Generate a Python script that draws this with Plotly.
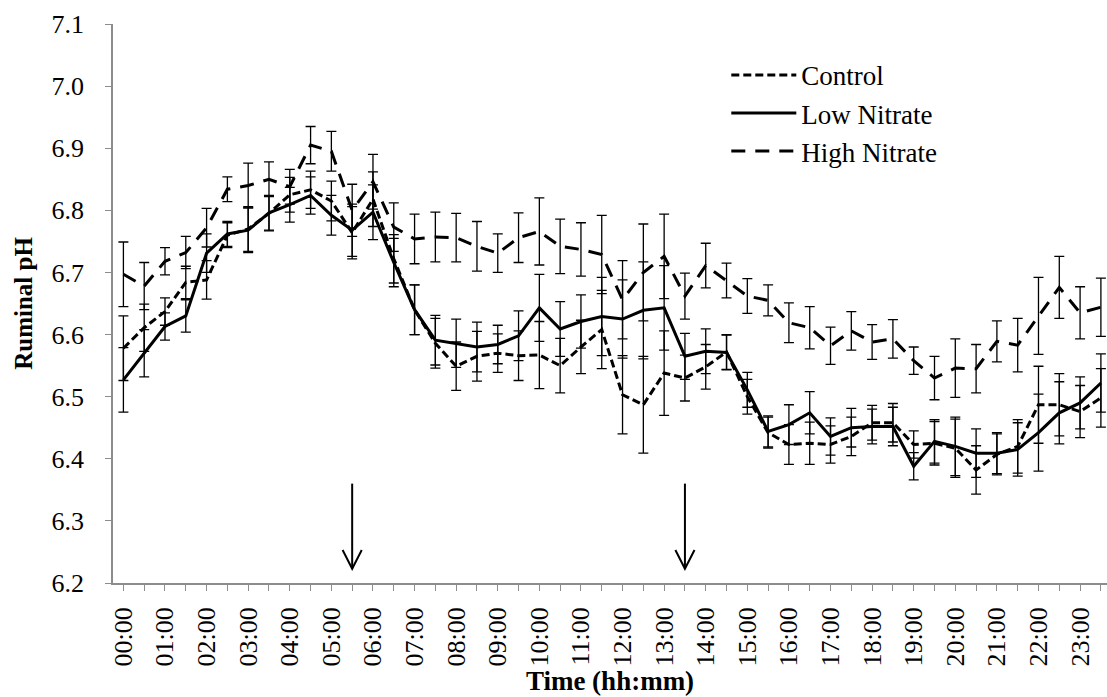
import plotly.graph_objects as go

# Half-hourly sampling times (hours after 00:00) and their clock labels
hours = [h / 2 for h in range(48)]
time_labels = [f"{int(h):02d}:{'30' if h % 1 else '00'}" for h in hours]
tick_text = [lab if lab.endswith(":00") else "" for lab in time_labels]

# Mean ruminal pH per treatment
control = [6.578, 6.611, 6.637, 6.684, 6.688, 6.760, 6.770, 6.795, 6.825, 6.833,
           6.815, 6.764, 6.818, 6.722, 6.640, 6.586, 6.549, 6.565, 6.570, 6.566,
           6.567, 6.550, 6.580, 6.608, 6.503, 6.487, 6.538, 6.530, 6.548, 6.572,
           6.500, 6.442, 6.423, 6.425, 6.423, 6.436, 6.458, 6.458, 6.423, 6.425,
           6.417, 6.382, 6.407, 6.420, 6.487, 6.487, 6.476, 6.498]

low_nitrate = [6.527, 6.570, 6.613, 6.630, 6.731, 6.762, 6.768, 6.796, 6.809, 6.824,
               6.792, 6.768, 6.797, 6.716, 6.640, 6.591, 6.586, 6.580, 6.584, 6.598,
               6.643, 6.609, 6.621, 6.629, 6.625, 6.639, 6.643, 6.565, 6.573, 6.571,
               6.511, 6.444, 6.455, 6.474, 6.436, 6.450, 6.452, 6.452, 6.388, 6.428,
               6.420, 6.409, 6.409, 6.415, 6.442, 6.474, 6.490, 6.522]

high_nitrate = [6.697, 6.678, 6.718, 6.732, 6.772, 6.834, 6.840, 6.850, 6.838, 6.905,
                6.895, 6.800, 6.846, 6.773, 6.754, 6.757, 6.756, 6.742, 6.731, 6.756,
                6.766, 6.742, 6.737, 6.729, 6.656, 6.700, 6.726, 6.662, 6.711, 6.687,
                6.662, 6.655, 6.619, 6.611, 6.582, 6.606, 6.588, 6.593, 6.558, 6.530,
                6.546, 6.545, 6.589, 6.583, 6.630, 6.676, 6.635, 6.644]

# Pooled standard error of the mean at each time point
sem = [0.052, 0.038, 0.022, 0.026, 0.031, 0.020, 0.036, 0.028, 0.028, 0.030,
       0.032, 0.042, 0.044, 0.039, 0.040, 0.040, 0.039, 0.040, 0.031, 0.040,
       0.054, 0.044, 0.043, 0.063, 0.063, 0.078, 0.068, 0.037, 0.036, 0.028,
       0.028, 0.025, 0.032, 0.034, 0.030, 0.031, 0.028, 0.031, 0.022, 0.035,
       0.047, 0.039, 0.033, 0.043, 0.062, 0.050, 0.042, 0.047]

# Feeding times marked with arrows (hours)
feeding_hours = [5.5, 13.5]

FONT = "Liberation Serif"
AXIS_GREY = "#8c8c8c"

series = [
    ("Control", control, "8px,4px"),
    ("Low Nitrate", low_nitrate, "solid"),
    ("High Nitrate", high_nitrate, "14px,10px"),
]

fig = go.Figure()
for name, values, dash in series:
    fig.add_trace(go.Scatter(
        x=hours, y=values, name=name, mode="lines",
        line=dict(color="black", width=3, dash=dash),
        error_y=dict(type="data", array=sem, visible=True,
                     color="black", thickness=1.3, width=5),
    ))

# Downward arrows at feeding times
shapes = []
for fh in feeding_hours:
    tip = 6.223
    shapes.append(dict(type="line", xref="x", yref="y", x0=fh, x1=fh,
                       y0=6.360, y1=tip, line=dict(color="black", width=2)))
    shapes.append(dict(type="path", xref="x", yref="y",
                       path=f"M {fh - 0.23},{tip + 0.030} L {fh},{tip} L {fh + 0.23},{tip + 0.030}",
                       line=dict(color="black", width=2)))

fig.update_layout(
    width=1107, height=697,
    margin=dict(l=113, r=0, t=24, b=114),
    paper_bgcolor="white", plot_bgcolor="white",
    font=dict(family=FONT, color="black", size=26),
    shapes=shapes,
    showlegend=True,
    legend=dict(
        x=0.617, y=0.952, xanchor="left", yanchor="top",
        bgcolor="rgba(0,0,0,0)", borderwidth=0,
        font=dict(family=FONT, size=27, color="black"),
        itemwidth=65, tracegroupgap=0,
    ),
    xaxis=dict(
        range=[-0.25, 23.647],
        tickmode="array", tickvals=hours, ticktext=tick_text,
        tickangle=-90, ticks="outside", ticklen=6, tickwidth=1, tickcolor=AXIS_GREY,
        showline=True, linecolor=AXIS_GREY, linewidth=1.5,
        showgrid=False, zeroline=False,
        tickfont=dict(family=FONT, size=26, color="black"),
        ticklabelstandoff=6,
        title=dict(text="<b>Time (hh:mm)</b>", font=dict(family=FONT, size=27),
                   standoff=2),
    ),
    yaxis=dict(
        range=[6.2, 7.1], dtick=0.1, tick0=6.2, tickformat=".1f",
        ticks="outside", ticklen=6, tickwidth=1, tickcolor=AXIS_GREY,
        showline=True, linecolor=AXIS_GREY, linewidth=1.5,
        showgrid=False, zeroline=False,
        tickfont=dict(family=FONT, size=26, color="black"),
        ticklabelstandoff=16,
        title=dict(text="<b>Ruminal pH</b>", font=dict(family=FONT, size=25),
                   standoff=12),
    ),
)

fig.write_html("out.html")
